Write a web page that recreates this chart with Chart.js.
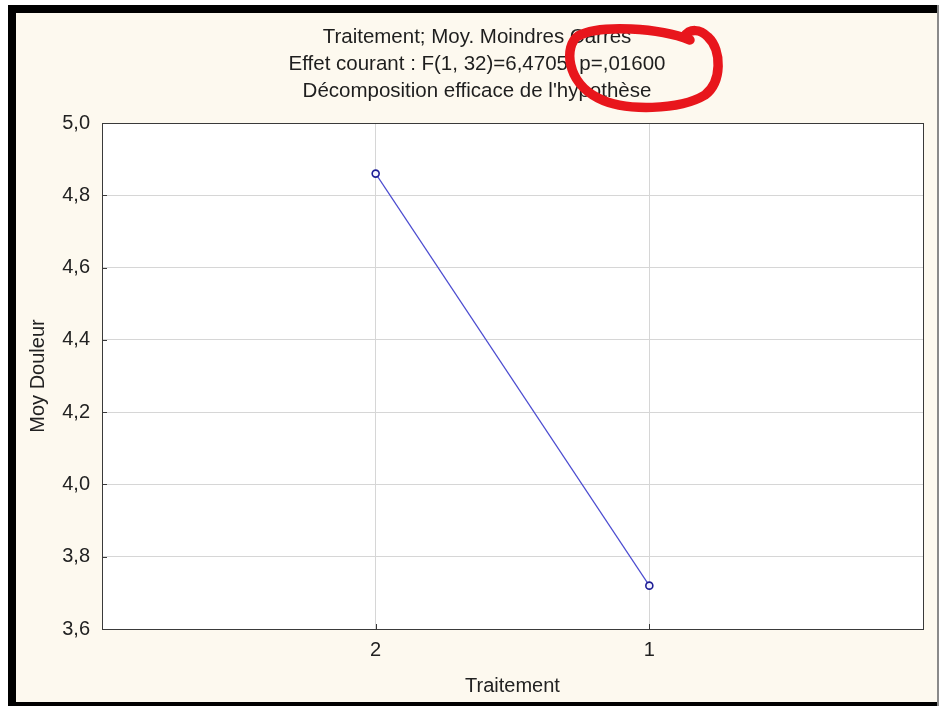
<!DOCTYPE html>
<html>
<head>
<meta charset="utf-8">
<script src="https://cdn.jsdelivr.net/npm/chart.js@4/dist/chart.umd.min.js"></script>
<style>
  html, body { margin: 0; padding: 0; background: #ffffff; }
  #wrap { position: absolute; left: 0; top: 0; width: 939px; height: 706px; }
</style>
</head>
<body>
<div id="wrap"><canvas id="c" width="939" height="706"></canvas></div>
<script>
// Group labels along the x axis (left to right) and the least-squares means
const categories = ['2', '1'];
const moyDouleur = [4.86, 3.72];

// Vertical axis range and step
const yMin = 3.6;
const yMax = 5.0;
const yStep = 0.2;

// Title lines and axis names
const titleLines = [
  'Traitement; Moy. Moindres Carres',
  'Effet courant : F(1, 32)=6,4705, p=,01600',
  "Décomposition efficace de l'hypothèse"
];
const xAxisName = 'Traitement';
const yAxisName = 'Moy Douleur';

const FONT = 'Arial, "Liberation Sans", sans-serif';
const PAPER = '#fdf9ef';

// Window frame, beige paper, white plotting area, three-line heading
const framePlugin = {
  id: 'frame',
  beforeDraw(chart) {
    const ctx = chart.ctx;
    const W = chart.width, H = chart.height;
    ctx.save();
    ctx.fillStyle = '#ffffff';
    ctx.fillRect(0, 0, W, H);
    ctx.fillStyle = PAPER;
    ctx.fillRect(16, 13, 921, 689);
    ctx.fillStyle = '#000000';
    ctx.fillRect(8, 5, W - 8, 8);
    ctx.fillRect(8, 5, 8, H - 5);
    ctx.fillRect(8, 702, W - 8, H - 702);
    ctx.fillStyle = '#8a8a8a';
    ctx.fillRect(937, 5, 2, H - 5);
    const a = chart.chartArea;
    ctx.fillStyle = '#ffffff';
    ctx.fillRect(a.left, a.top, a.right - a.left, a.bottom - a.top);
    ctx.restore();
  },
  beforeDatasetsDraw(chart) {
    const ctx = chart.ctx;
    const a = chart.chartArea;
    const xs = chart.scales.x, ys = chart.scales.y;
    ctx.save();
    ctx.strokeStyle = '#3a3a3a';
    ctx.lineWidth = 1;
    // inward tick marks
    ctx.beginPath();
    ys.ticks.forEach(t => {
      const y = Math.round(ys.getPixelForValue(t.value)) + 0.5;
      ctx.moveTo(a.left, y);
      ctx.lineTo(a.left + 5, y);
    });
    xs.ticks.forEach(t => {
      const x = Math.round(xs.getPixelForValue(t.value)) + 0.5;
      ctx.moveTo(x, a.bottom);
      ctx.lineTo(x, a.bottom - 5);
    });
    ctx.stroke();
    // plot box
    ctx.strokeRect(Math.round(a.left) + 0.5, Math.round(a.top) + 0.5,
                   Math.round(a.right - a.left), Math.round(a.bottom - a.top));
    ctx.restore();
  },
  afterDraw(chart) {
    const ctx = chart.ctx;
    ctx.save();
    // heading
    ctx.fillStyle = '#1e1e1e';
    ctx.font = '20.5px ' + FONT;
    ctx.textAlign = 'center';
    ctx.textBaseline = 'middle';
    titleLines.forEach((line, i) => ctx.fillText(line, 477, 37 + i * 27));
    // red hand-drawn loop around the p-value
    ctx.strokeStyle = '#e8161c';
    ctx.lineWidth = 9.5;
    ctx.lineCap = 'round';
    ctx.lineJoin = 'round';
    ctx.beginPath();
    ctx.moveTo(690, 40);
    ctx.bezierCurveTo(660, 28, 600, 24, 578, 36);
    ctx.bezierCurveTo(564, 46, 566, 82, 598, 98);
    ctx.bezierCurveTo(625, 112, 680, 110, 705, 95);
    ctx.bezierCurveTo(722, 82, 722, 50, 708, 37);
    ctx.bezierCurveTo(700, 29, 690, 28, 684, 37);
    ctx.stroke();
    ctx.restore();
  }
};

const points = moyDouleur.map((v, i) => ({ x: i + 1, y: v }));

new Chart(document.getElementById('c'), {
  type: 'line',
  data: {
    datasets: [{
      data: points,
      borderColor: '#4b4bd0',
      borderWidth: 1.2,
      pointRadius: 3.5,
      pointBorderWidth: 1.6,
      pointBorderColor: '#1e1e96',
      pointBackgroundColor: '#f4f4ff',
      tension: 0
    }]
  },
  options: {
    responsive: false,
    animation: false,
    events: [],
    layout: { padding: { left: 16, right: 16, top: 123, bottom: 4 } },
    plugins: {
      legend: { display: false },
      tooltip: { enabled: false },
      title: { display: false }
    },
    scales: {
      x: {
        type: 'linear',
        min: 0,
        max: categories.length + 1,
        afterBuildTicks(scale) {
          scale.ticks = categories.map((_, i) => ({ value: i + 1 }));
        },
        afterFit(scale) { scale.height = 73; },
        ticks: {
          color: '#222222',
          font: { family: FONT, size: 20 },
          padding: 9,
          autoSkip: false,
          maxRotation: 0,
          callback: (v) => categories[v - 1]
        },
        grid: { color: '#d6d6d6', lineWidth: 1, drawTicks: false },
        border: { display: true, color: '#3a3a3a', width: 1 },
        title: {
          display: true,
          text: xAxisName,
          color: '#222222',
          font: { family: FONT, size: 20 },
          padding: { top: 0, bottom: 4 }
        }
      },
      y: {
        min: yMin,
        max: yMax,
        afterFit(scale) { scale.width = 86; },
        ticks: {
          stepSize: yStep,
          color: '#222222',
          font: { family: FONT, size: 20 },
          padding: 12,
          callback: (v) => v.toFixed(1).replace('.', ',')
        },
        grid: { color: '#d6d6d6', lineWidth: 1, drawTicks: false },
        border: { display: true, color: '#3a3a3a', width: 1 },
        title: {
          display: true,
          text: yAxisName,
          color: '#222222',
          font: { family: FONT, size: 20 },
          padding: { top: 10, bottom: 0 }
        }
      }
    }
  },
  plugins: [framePlugin]
});
</script>
</body>
</html>
